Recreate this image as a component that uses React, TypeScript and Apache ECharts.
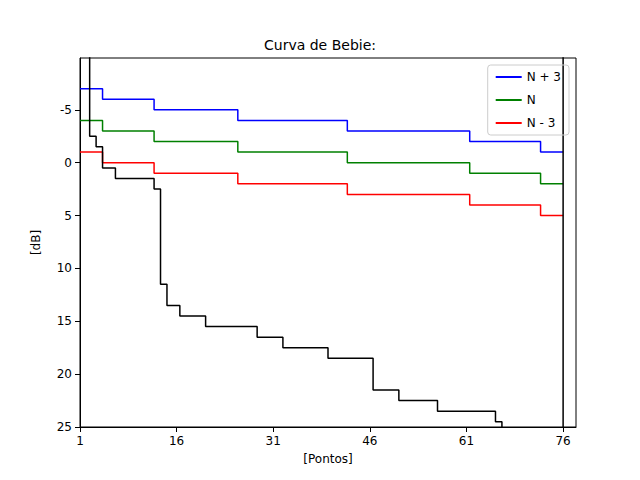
import { useEffect, useRef } from "react";
import * as echarts from "echarts";

const xTicks = [1, 16, 31, 46, 61, 76];
const yTicks = [-5, 0, 5, 10, 15, 20, 25];
const stepX = [1, 4.5, 12.5, 25.5, 42.5, 61.5, 72.5, 76];
const nPlus3 = [-7, -6, -5, -4, -3, -2, -1, -1];
const nMid = [-4, -3, -2, -1, 0, 1, 2, 2];
const nMinus3 = [-1, 0, 1, 2, 3, 4, 5, 5];
const blackX = [2.5, 2.5, 3.5, 4.5, 6.5, 12.5, 13.5, 14.5, 16.5, 20.5, 28.5, 32.5, 39.5, 46.5, 50.5, 56.5, 65.5, 66.5];
const blackY = [-20, -2.5, -1.5, 0.5, 1.5, 2.5, 11.5, 13.5, 14.5, 15.5, 16.5, 17.5, 18.5, 21.5, 22.5, 23.5, 24.5, 30];
const endX = 76;

const zip = (xs: number[], ys: number[]) => xs.map((x, i) => [x, ys[i]]);

export default function App() {
  const ref = useRef<HTMLDivElement | null>(null);
  useEffect(() => {
    if (!ref.current) return;
    const chart = echarts.init(ref.current, undefined, { renderer: "svg" });
    const font = "DejaVu Sans";
    const line = (name: string, color: string, data: number[][]) => ({
      name, type: "line", step: "end", data, symbol: "none", color,
      lineStyle: { color, width: 1.5 }, clip: true,
    });
    chart.setOption({
      animation: false,
      textStyle: { fontFamily: font },
      title: { text: "Curva de Bebie:", left: "center", top: 25, textStyle: { fontFamily: font, fontSize: 14, fontWeight: "normal", color: "#000" } },
      legend: {
        data: ["N + 3", "N", "N - 3"], orient: "vertical", right: 63, top: 57,
        borderColor: "#ccc", borderWidth: 1, borderRadius: 3, padding: [6, 8],
        itemWidth: 26, itemHeight: 2, icon: "rect", itemGap: 11,
        textStyle: { fontFamily: font, fontSize: 12, color: "#000" },
      },
      grid: { left: 72, right: 56, top: 50, bottom: 45, show: true, borderColor: "#000", borderWidth: 1 },
      xAxis: {
        type: "value", min: 1, max: 78, name: "[Pontos]", nameLocation: "middle", nameGap: 26,
        nameTextStyle: { fontFamily: font, fontSize: 12, color: "#000" },
        splitLine: { show: false },
        axisLine: { onZero: false, lineStyle: { color: "#000" } },
        axisTick: { customValues: xTicks, lineStyle: { color: "#000" } },
        axisLabel: { customValues: xTicks, color: "#000", fontSize: 12 },
      },
      yAxis: {
        type: "value", inverse: true, min: -9.9, max: 25, name: "[dB]", nameLocation: "middle", nameGap: 38,
        nameTextStyle: { fontFamily: font, fontSize: 12, color: "#000" },
        splitLine: { show: false },
        axisLine: { onZero: false, lineStyle: { color: "#000" } },
        axisTick: { customValues: yTicks, lineStyle: { color: "#000" } },
        axisLabel: { customValues: yTicks, color: "#000", fontSize: 12 },
      },
      series: [
        line("N + 3", "#0000ff", zip(stepX, nPlus3)),
        line("N", "#008000", zip(stepX, nMid)),
        line("N - 3", "#ff0000", zip(stepX, nMinus3)),
        line("black", "#000000", zip(blackX, blackY)),
        line("end", "#000000", [[endX, -20], [endX, 30]]),
      ],
    });
    return () => chart.dispose();
  }, []);
  return <div ref={ref} style={{ width: 624, height: 464 }} />;
}
